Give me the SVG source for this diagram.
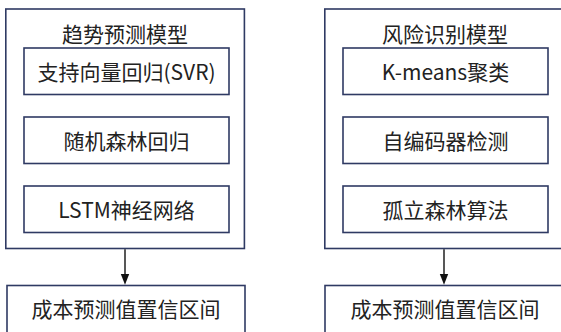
<svg xmlns="http://www.w3.org/2000/svg" width="561" height="332" viewBox="0 0 561 332">
<style>
.box{fill:#fff;stroke:#2f3a63;stroke-width:1.6}
.t{font-family:"Noto Sans CJK SC","Noto Sans",sans-serif;font-size:21px;fill:#222;text-anchor:middle;dominant-baseline:central}
.c{stroke:#111;stroke-width:1.4;fill:none}
.h{fill:#111}
</style>
<rect width="561" height="332" fill="#fff"/>
<g id="trend">
<rect class="box" x="5.8" y="9" width="238.6" height="239.5"/>
<text class="t" x="125" y="32.5">趋势预测模型</text>
</g>
<g id="svr"><rect class="box" x="24" y="48" width="205" height="46.5"/><text class="t" x="126.5" y="71">支持向量回归(SVR)</text></g>
<g id="rf"><rect class="box" x="24" y="117" width="205" height="46.5"/><text class="t" x="126.5" y="140">随机森林回归</text></g>
<g id="lstm"><rect class="box" x="24" y="186" width="205" height="46.5"/><text class="t" x="126.5" y="209">LSTM神经网络</text></g>
<g id="risk">
<rect class="box" x="324.8" y="9" width="241" height="239.5"/>
<text class="t" x="445" y="32.5">风险识别模型</text>
</g>
<g id="kmeans"><rect class="box" x="343" y="48" width="205" height="46.5"/><text class="t" x="445.5" y="71">K-means聚类</text></g>
<g id="ae"><rect class="box" x="343" y="117" width="205" height="46.5"/><text class="t" x="445.5" y="140">自编码器检测</text></g>
<g id="iforest"><rect class="box" x="343" y="186" width="205" height="46.5"/><text class="t" x="445.5" y="209">孤立森林算法</text></g>
<g id="ci1"><rect class="box" x="7" y="285.5" width="238" height="60"/><text class="t" x="126" y="308">成本预测值置信区间</text></g>
<g id="ci2"><rect class="box" x="325" y="285.5" width="241" height="60"/><text class="t" x="445" y="308">成本预测值置信区间</text></g>
<g id="connectors">
<line class="c" x1="125" y1="249.3" x2="125" y2="275"/>
<path class="h" d="M120.8,274 L129.2,274 L125,284.8 Z"/>
<line class="c" x1="444" y1="249.3" x2="444" y2="275"/>
<path class="h" d="M439.8,274 L448.2,274 L444,284.8 Z"/>
</g>
</svg>
